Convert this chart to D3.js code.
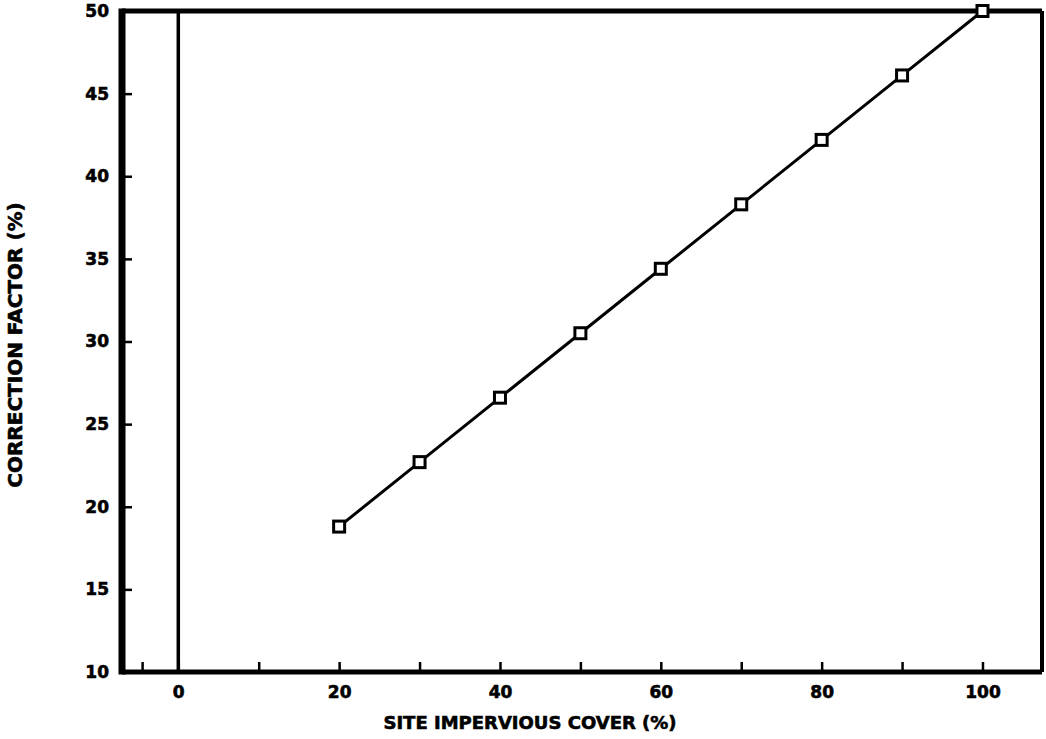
<!DOCTYPE html>
<html>
<head>
<meta charset="utf-8">
<script src="https://cdn.jsdelivr.net/npm/d3@7"></script>
<style>
  body { margin: 0; background: #fff; }
  text { font-family: "DejaVu Sans", sans-serif; font-weight: bold; fill: #000; stroke: #000; stroke-width: 0.6px; }
</style>
</head>
<body>
<svg id="container"></svg>
<script>
// site impervious cover (%) vs correction factor (%)
const cover = [20, 30, 40, 50, 60, 70, 80, 90, 100];
const factor = [18.8, 22.7, 26.6, 30.5, 34.4, 38.3, 42.2, 46.1, 50.0];
const xTicks = [-4.5, 0, 10, 20, 30, 40, 50, 60, 70, 80, 90, 100];
const xLabels = [0, 20, 40, 60, 80, 100];
const yTicks = [10, 15, 20, 25, 30, 35, 40, 45, 50];

const W = 1046, H = 739;
const margin = {top: 11, right: 4, bottom: 67, left: 122};
const w = W - margin.left - margin.right,
      h = H - margin.top - margin.bottom;

const svg = d3.select("#container")
  .attr("width", W).attr("height", H)
  .append("g")
  .attr("transform", "translate(" + margin.left + "," + margin.top + ")");

const xScale = d3.scaleLinear().domain([-7, 107.4]).range([0, w]);
const yScale = d3.scaleLinear().domain([10, 50]).range([h, 0]);

// x ticks (inward, short)
const xAxis = d3.axisBottom(xScale)
  .tickValues(xTicks)
  .tickSize(-10)
  .tickPadding(14)
  .tickFormat(d => xLabels.includes(d) ? d : "");
const gX = svg.append("g")
  .attr("transform", "translate(0," + h + ")")
  .call(xAxis);
gX.select(".domain").remove();
gX.selectAll(".tick line").attr("stroke", "#000").attr("stroke-width", 2.5);
gX.selectAll(".tick text").style("font-size", "17px").style("font-family", "DejaVu Sans");

const yAxis = d3.axisLeft(yScale)
  .tickValues(yTicks)
  .tickSize(-10)
  .tickPadding(13);
const gY = svg.append("g").call(yAxis);
gY.select(".domain").remove();
gY.selectAll(".tick line").attr("stroke", "#000").attr("stroke-width", 2.5);
gY.selectAll(".tick text").style("font-size", "17px").style("font-family", "DejaVu Sans");

// frame
svg.append("line").attr("x1", 0).attr("x2", w).attr("y1", 0).attr("y2", 0)
  .attr("stroke", "#000").attr("stroke-width", 5);
svg.append("line").attr("x1", w).attr("x2", w).attr("y1", 0).attr("y2", h)
  .attr("stroke", "#000").attr("stroke-width", 4);
svg.append("line").attr("x1", 0).attr("x2", w).attr("y1", h).attr("y2", h)
  .attr("stroke", "#000").attr("stroke-width", 5);
svg.append("line").attr("x1", 0).attr("x2", 0).attr("y1", -2.5).attr("y2", h + 2.5)
  .attr("stroke", "#000").attr("stroke-width", 7);

// zero line
svg.append("line")
  .attr("x1", xScale(0)).attr("x2", xScale(0))
  .attr("y1", 0).attr("y2", h)
  .attr("stroke", "#000").attr("stroke-width", 3.5);

const pts = cover.map((c, i) => ({x: c, y: factor[i]}));

svg.append("path")
  .datum(pts)
  .attr("fill", "none")
  .attr("stroke", "#000")
  .attr("stroke-width", 3)
  .attr("d", d3.line().x(d => xScale(d.x)).y(d => yScale(d.y)));

svg.selectAll(".marker")
  .data(pts)
  .enter()
  .append("rect")
  .attr("class", "marker")
  .attr("x", d => xScale(d.x) - 5.5)
  .attr("y", d => yScale(d.y) - 5.5)
  .attr("width", 11).attr("height", 11)
  .attr("fill", "#fff")
  .attr("stroke", "#000")
  .attr("stroke-width", 3);

// axis titles
svg.append("text")
  .attr("x", 530 - margin.left)
  .attr("y", 729 - margin.top)
  .attr("text-anchor", "middle")
  .style("font-size", "18px")
  .text("SITE IMPERVIOUS COVER (%)");

svg.append("text")
  .attr("transform", "translate(" + (22 - margin.left) + "," + (345 - margin.top) + ") rotate(-90)")
  .attr("text-anchor", "middle")
  .style("font-size", "20px")
  .text("CORRECTION FACTOR (%)");
</script>
</body>
</html>
